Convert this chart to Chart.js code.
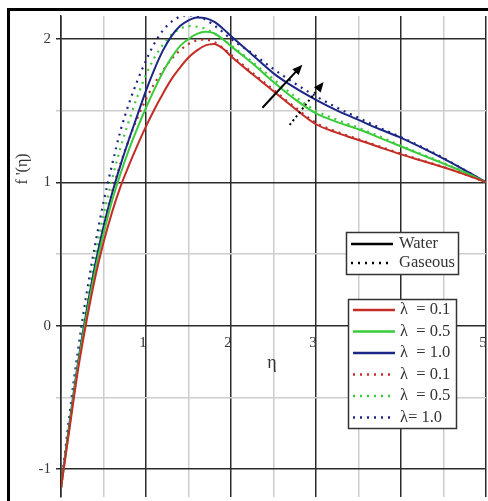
<!DOCTYPE html>
<html>
<head>
<meta charset="utf-8">
<script src="https://cdn.jsdelivr.net/npm/chart.js@4.4.0/dist/chart.umd.min.js"></script>
<style>
  html, body { margin: 0; padding: 0; background: #fff; }
  #wrap { position: relative; width: 488px; height: 501px; overflow: hidden; }
  #frame { position: absolute; left: 7px; top: 8px; width: 600px; height: 600px;
           border-left: 3px solid #000; border-top: 3px solid #000; }
  #chart { position: absolute; left: 0; top: 0; }
</style>
</head>
<body>
<div id="wrap">
  <div id="frame"></div>
  <canvas id="chart" width="488" height="501"></canvas>
</div>
<script>
'use strict';

// eta values (x axis)
const eta = [0, 0.1, 0.2, 0.3, 0.4, 0.5, 0.6, 0.7, 0.8, 0.9, 1.0, 1.1, 1.2, 1.3, 1.4, 1.5, 1.6, 1.7, 1.8, 1.9, 2.0,
             2.25, 2.5, 2.75, 3.0, 3.25, 3.5, 3.75, 4.0, 4.25, 4.5, 4.75, 5.0];

// f'(eta), water (solid)
const waterL01 = [-1.13, -0.72, -0.31, 0.03, 0.33, 0.58, 0.79, 0.97, 1.12, 1.26, 1.39, 1.51, 1.62, 1.72, 1.80, 1.87, 1.92, 1.955, 1.965, 1.935, 1.88,
                  1.755, 1.635, 1.515, 1.405, 1.345, 1.295, 1.245, 1.195, 1.15, 1.105, 1.055, 1.0];
const waterL05 = [-1.13, -0.70, -0.28, 0.07, 0.38, 0.64, 0.87, 1.06, 1.23, 1.38, 1.52, 1.65, 1.77, 1.87, 1.95, 2.0, 2.035, 2.05, 2.04, 2.0, 1.95,
                  1.83, 1.70, 1.58, 1.48, 1.42, 1.37, 1.31, 1.25, 1.19, 1.13, 1.07, 1.0];
const waterL10 = [-1.13, -0.68, -0.26, 0.10, 0.42, 0.69, 0.92, 1.12, 1.30, 1.47, 1.64, 1.79, 1.92, 2.02, 2.09, 2.13, 2.15, 2.145, 2.12, 2.075, 2.02,
                  1.89, 1.76, 1.66, 1.575, 1.50, 1.435, 1.37, 1.31, 1.24, 1.165, 1.085, 1.0];

// f'(eta), gaseous (dotted)
const gasL01 = [-1.13, -0.69, -0.27, 0.09, 0.41, 0.69, 0.93, 1.13, 1.30, 1.45, 1.58, 1.69, 1.78, 1.86, 1.92, 1.965, 1.99, 1.995, 1.98, 1.94, 1.89,
                1.765, 1.645, 1.525, 1.415, 1.352, 1.30, 1.25, 1.2, 1.152, 1.107, 1.056, 1.0];
const gasL05 = [-1.13, -0.66, -0.23, 0.15, 0.48, 0.77, 1.02, 1.24, 1.43, 1.60, 1.75, 1.87, 1.96, 2.03, 2.07, 2.09, 2.085, 2.07, 2.04, 2.0, 1.955,
                1.84, 1.72, 1.60, 1.50, 1.435, 1.38, 1.32, 1.255, 1.195, 1.135, 1.07, 1.0];
const gasL10 = [-1.13, -0.62, -0.17, 0.22, 0.56, 0.86, 1.12, 1.36, 1.55, 1.71, 1.85, 1.97, 2.06, 2.12, 2.155, 2.165, 2.16, 2.135, 2.095, 2.05, 2.0,
                1.90, 1.79, 1.69, 1.60, 1.52, 1.45, 1.38, 1.315, 1.245, 1.17, 1.085, 1.0];

const xTicks = [0, 0.5, 1, 1.5, 2, 2.5, 3, 3.5, 4, 4.5, 5];
const yTicks = [-1, -0.5, 0, 0.5, 1, 1.5, 2];

const fluidLabels = ['Water', 'Gaseous'];
const lambdaLabels = ['λ  = 0.1', 'λ  = 0.5', 'λ  = 1.0', 'λ  = 0.1', 'λ  = 0.5', 'λ= 1.0'];

// arrows in data units: [x0, y0, x1, y1]
const solidArrow = [2.37, 1.52, 2.84, 1.82];
const dottedArrow = [2.69, 1.40, 3.09, 1.70];

const RED = '#c42c26';
const GREEN = '#3acb3a';
const BLUE = '#1c2684';
const SERIF = '"Liberation Serif", "DejaVu Serif", serif';

const pts = arr => eta.map((x, i) => ({ x, y: arr[i] }));

function series(label, arr, color, dotted) {
  return {
    label,
    data: pts(arr),
    borderColor: color,
    borderWidth: dotted ? 2.2 : 2,
    borderDash: dotted ? [2, 5] : [],
    pointRadius: 0,
    cubicInterpolationMode: 'monotone',
    fill: false,
  };
}

const gridColor = ctx => Number.isInteger(ctx.tick.value) ? '#2b2b2b' : '#cdcdcd';

function drawArrow(ctx, x0, y0, x1, y1, dash) {
  const ang = Math.atan2(y1 - y0, x1 - x0);
  const head = 11;
  ctx.save();
  ctx.strokeStyle = '#000';
  ctx.fillStyle = '#000';
  ctx.lineWidth = 2;
  ctx.setLineDash(dash);
  ctx.beginPath();
  ctx.moveTo(x0, y0);
  ctx.lineTo(x1 - Math.cos(ang) * head * 0.8, y1 - Math.sin(ang) * head * 0.8);
  ctx.stroke();
  ctx.setLineDash([]);
  ctx.beginPath();
  ctx.moveTo(x1, y1);
  ctx.lineTo(x1 - head * Math.cos(ang - 0.4), y1 - head * Math.sin(ang - 0.4));
  ctx.lineTo(x1 - head * Math.cos(ang + 0.4), y1 - head * Math.sin(ang + 0.4));
  ctx.closePath();
  ctx.fill();
  ctx.restore();
}

function legendLine(ctx, x0, x1, y, color, dotted) {
  ctx.save();
  ctx.strokeStyle = color;
  ctx.lineWidth = 2.5;
  ctx.setLineDash(dotted ? [2, 5] : []);
  ctx.beginPath();
  ctx.moveTo(x0, y);
  ctx.lineTo(x1, y);
  ctx.stroke();
  ctx.restore();
}

const overlay = {
  id: 'overlay',
  afterDraw(chart) {
    const { ctx, scales: { x, y } } = chart;

    drawArrow(ctx, x.getPixelForValue(solidArrow[0]), y.getPixelForValue(solidArrow[1]),
              x.getPixelForValue(solidArrow[2]), y.getPixelForValue(solidArrow[3]), []);
    drawArrow(ctx, x.getPixelForValue(dottedArrow[0]), y.getPixelForValue(dottedArrow[1]),
              x.getPixelForValue(dottedArrow[2]), y.getPixelForValue(dottedArrow[3]), [2, 3]);

    // axis titles
    ctx.save();
    ctx.fillStyle = '#333';
    ctx.font = '18px ' + SERIF;
    ctx.textAlign = 'center';
    ctx.textBaseline = 'middle';
    ctx.fillText('η', 272, 363);
    ctx.translate(23, 169);
    ctx.rotate(-Math.PI / 2);
    ctx.font = '16px ' + SERIF;
    ctx.fillText("f '(η)", 0, 0);
    ctx.restore();

    // fluid legend
    ctx.save();
    ctx.fillStyle = '#fff';
    ctx.strokeStyle = '#333';
    ctx.lineWidth = 1.5;
    ctx.fillRect(346, 232, 113, 43);
    ctx.strokeRect(346.5, 232.5, 112, 42);
    legendLine(ctx, 351, 393, 244, '#000', false);
    legendLine(ctx, 351, 393, 263, '#000', true);
    ctx.fillStyle = '#333';
    ctx.font = '16.5px ' + SERIF;
    ctx.textBaseline = 'middle';
    ctx.fillText(fluidLabels[0], 399, 244);
    ctx.fillText(fluidLabels[1], 399, 263);

    // lambda legend
    ctx.fillStyle = '#fff';
    ctx.fillRect(348, 299, 109, 130);
    ctx.strokeRect(348.5, 299.5, 108, 129);
    chart.data.datasets.forEach((ds, i) => {
      const yy = 310 + i * 21.5;
      legendLine(ctx, 353, 395, yy, ds.borderColor, ds.borderDash.length > 0);
      ctx.fillStyle = '#333';
      ctx.fillText(lambdaLabels[i], 400, yy);
    });
    ctx.restore();
  }
};

new Chart(document.getElementById('chart'), {
  type: 'line',
  data: {
    datasets: [
      series('λ = 0.1 water', waterL01, RED, false),
      series('λ = 0.5 water', waterL05, GREEN, false),
      series('λ = 1.0 water', waterL10, BLUE, false),
      series('λ = 0.1 gaseous', gasL01, RED, true),
      series('λ = 0.5 gaseous', gasL05, GREEN, true),
      series('λ = 1.0 gaseous', gasL10, BLUE, true),
    ],
  },
  options: {
    responsive: false,
    animation: false,
    layout: { padding: { left: 0, top: 16, right: 2, bottom: 4 } },
    plugins: { legend: { display: false }, tooltip: { enabled: false } },
    scales: {
      x: {
        type: 'linear',
        min: 0,
        max: 5,
        position: { y: 0 },
        afterBuildTicks: s => { s.ticks = xTicks.map(v => ({ value: v })); },
        afterFit: s => { s.paddingLeft = 0; s.paddingRight = 0; },
        border: { display: false },
        grid: { color: gridColor, lineWidth: 1.5, drawTicks: false },
        ticks: {
          color: '#333',
          font: { family: SERIF, size: 15 },
          padding: 8,
          labelOffset: -3,
          maxRotation: 0,
          autoSkip: false,
          callback: v => (Number.isInteger(v) && v !== 0) ? String(v) : '',
        },
      },
      y: {
        min: -1.195,
        max: 2.16,
        afterBuildTicks: s => { s.ticks = yTicks.map(v => ({ value: v })); },
        afterFit: s => { s.width = 61; s.paddingTop = 0; s.paddingBottom = 0; },
        border: { display: true, color: '#2b2b2b', width: 1.5 },
        grid: { color: gridColor, lineWidth: 1.5, tickLength: 5 },
        ticks: {
          color: '#3a3a3a',
          font: { family: SERIF, size: 15 },
          padding: 5,
          autoSkip: false,
          callback: v => Number.isInteger(v) ? String(v) : '',
        },
      },
    },
  },
  plugins: [overlay],
});
</script>
</body>
</html>
